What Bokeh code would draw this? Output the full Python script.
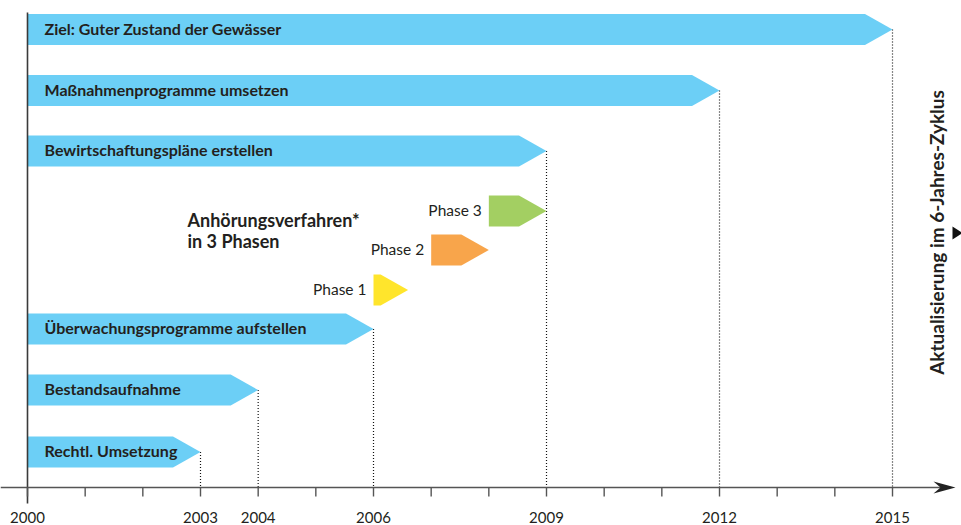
from bokeh.plotting import figure
from bokeh.models import Range1d
from bokeh.core.properties import value
from bokeh.embed import file_html
from bokeh.resources import INLINE

# ---------------- data ----------------
task_labels = [
    "Ziel: Guter Zustand der Gewässer",
    "Maßnahmenprogramme umsetzen",
    "Bewirtschaftungspläne erstellen",
    "Überwachungsprogramme aufstellen",
    "Bestandsaufnahme",
    "Rechtl. Umsetzung",
]
task_start = [2000, 2000, 2000, 2000, 2000, 2000]
task_end = [2015, 2012, 2009, 2006, 2004, 2003]

phase_labels = ["Phase 1", "Phase 2", "Phase 3"]
phase_start = [2006, 2007, 2008]
phase_end = [2006.6, 2008, 2009]
phase_colors = ["#FFE52C", "#F8A54B", "#A3CF62"]

tick_labels = ["2000", "2003", "2004", "2006", "2009", "2012", "2015"]
tick_years = [2000, 2003, 2004, 2006, 2009, 2012, 2015]
minor_years = list(range(2000, 2016))

# ---------------- layout ----------------
W, H = 961, 525
S = 57.667                      # px per year
X0 = 2000 - 27 / S              # left edge of frame in years
X1 = X0 + W / S

def px(ix):                     # image x pixel -> year (layout helper)
    return X0 + ix / S

task_y = [29, 90, 150.5, 328.5, 389.5, 451.5]     # row centres (image px)
phase_y = [289.5, 249.5, 210.5]
HALF = 15.5
HEAD = 27.5 / S
AXIS_Y = 487
TXT_DY = -1.5

BLUE = "#6CCFF6"
DARK = "#231F20"
LINE = "#3A3A3A"

p = figure(width=W, height=H, x_range=Range1d(X0, X1), y_range=Range1d(H, 0),
           output_backend="svg", toolbar_location=None, min_border=0)
p.axis.visible = False
p.grid.visible = False
p.outline_line_color = None
p.background_fill_color = "white"
p.border_fill_color = "white"


def arrow_poly(x0, x1, yc):
    xa = max(x0, x1 - HEAD)
    return ([x0, xa, x1, xa, x0], [yc - HALF, yc - HALF, yc, yc + HALF, yc + HALF])


# dotted guides from tips down to axis
p.segment(x0=task_end, y0=task_y, x1=task_end, y1=[AXIS_Y] * len(task_end),
          line_color="#111111", line_width=1.2, line_dash="1 2")

# task bars
xs, ys = [], []
for s0, e0, yc in zip(task_start, task_end, task_y):
    a, b = arrow_poly(s0, e0, yc)
    xs.append(a); ys.append(b)
p.patches(xs=xs, ys=ys, fill_color=BLUE, line_color=None)

# phase bars
pxs, pys = [], []
for s0, e0, yc in zip(phase_start, phase_end, phase_y):
    a, b = arrow_poly(s0, e0, yc)
    pxs.append(a); pys.append(b)
p.patches(xs=pxs, ys=pys, fill_color=phase_colors, line_color=None)

# task labels
p.text(x=[s + 17 / S for s in task_start], y=[y + TXT_DY for y in task_y], text=task_labels,
       text_font=value("Lato"), text_font_style="bold", text_font_size="16px",
       text_color=DARK, text_align="left", text_baseline="middle")

# phase labels
p.text(x=[s - 7 / S for s in phase_start], y=[y + TXT_DY for y in phase_y], text=phase_labels,
       text_font=value("Lato"), text_font_size="15.5px",
       text_color=DARK, text_align="right", text_baseline="middle")

# Anhörungsverfahren
p.text(x=[px(187), px(187)], y=[219, 240.5], text=["Anhörungsverfahren*", "in 3 Phasen"],
       text_font=value("Lato"), text_font_style="bold", text_font_size="18px",
       text_color=DARK, text_align="left", text_baseline="middle")

# rotated side label
p.text(x=[px(936)], y=[232], text=["Aktualisierung im 6-Jahres-Zyklus"], angle=1.5708,
       text_font=value("Lato"), text_font_style="bold", text_font_size="19px",
       text_color=DARK, text_align="center", text_baseline="middle")
p.patch(x=[px(952), px(962), px(952)], y=[226, 232.5, 239], fill_color="#111111", line_color=None)

# left vertical line
p.segment(x0=[2000], y0=[12], x1=[2000], y1=[503], line_color=LINE, line_width=1.6)

# x axis line + arrow head
p.segment(x0=[X0], y0=[AXIS_Y], x1=[px(945)], y1=[AXIS_Y], line_color="#555555", line_width=1.6)
p.patch(x=[px(955), px(933), px(940), px(933)], y=[AXIS_Y, AXIS_Y - 6, AXIS_Y, AXIS_Y + 6],
        fill_color="#222222", line_color=None)

# ticks
p.segment(x0=minor_years, y0=[AXIS_Y] * len(minor_years), x1=minor_years,
          y1=[AXIS_Y + 9] * len(minor_years), line_color="#555555", line_width=1.4)

# tick labels
p.text(x=tick_years, y=[517] * len(tick_years), text=tick_labels,
       text_font=value("Lato"), text_font_size="15px", text_color=DARK,
       text_align="center", text_baseline="middle")

open("out.html", "w").write(file_html(p, INLINE))
